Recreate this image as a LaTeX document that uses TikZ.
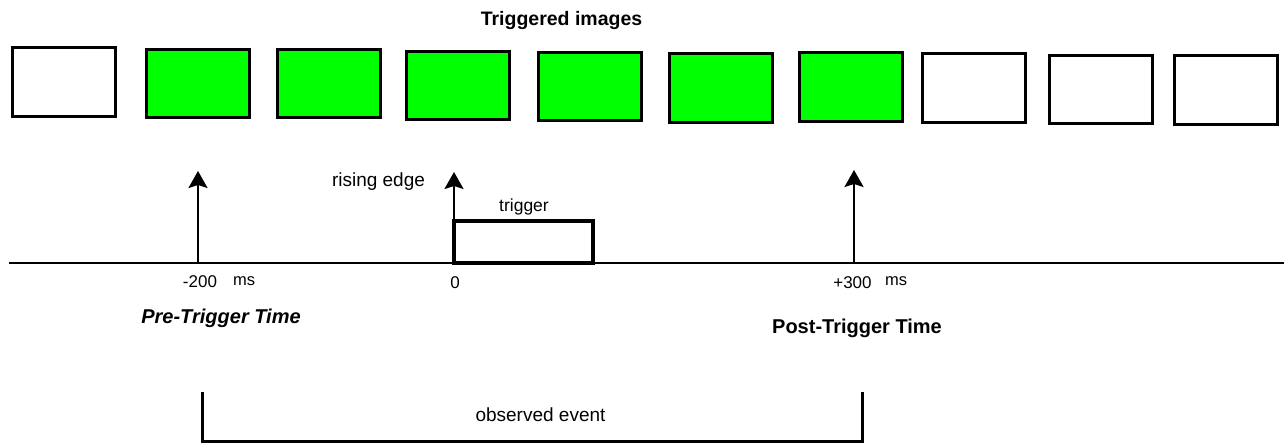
\documentclass[tikz,border=0pt]{standalone}
\usepackage{fontspec}
\setmainfont{Liberation Sans}
\usetikzlibrary{arrows.meta}

\definecolor{framegreen}{RGB}{0,255,0}

\tikzset{
  frame/.style={draw=black, line width=3pt, fill=white, minimum width=103pt,
    minimum height=68pt, inner sep=0pt, outer sep=0pt},
  hit/.style={frame, fill=framegreen},
  pulsebox/.style={draw=black, line width=3.5pt, minimum width=139pt,
    minimum height=42pt, inner sep=0pt},
  uparrow/.style={line width=2.5pt,
    -{Stealth[width=19pt, length=17pt, inset=3pt]}},
  axis/.style={line width=2.5pt},
  bracketline/.style={line width=3pt},
  lbl/.style={anchor=base, inner sep=0pt, text=black},
}

\begin{document}
\begin{tikzpicture}[x=1pt, y=-1pt]
\useasboundingbox (0,0) rectangle (1284,444);

% frame sequence
\node[frame] (f1)  at (64,82)     {};
\node[hit]   (f2)  at (198,83.5)  {};
\node[hit]   (f3)  at (329,83.5)  {};
\node[hit]   (f4)  at (458,85.5)  {};
\node[hit]   (f5)  at (589.5,86.5){};
\node[hit]   (f6)  at (721,88)    {};
\node[hit]   (f7)  at (850.5,87)  {};
\node[frame] (f8)  at (974,88)    {};
\node[frame] (f9)  at (1100.5,89.5){};
\node[frame] (f10) at (1226,90)   {};

\node[lbl, font=\fontsize{19.5}{22}\selectfont\bfseries] (title) at (561.5,26) {Triggered images};

% time axis
\coordinate (axL) at (9,263);
\coordinate (axR) at (1284,263);
\draw[axis] (axL) -- (axR);

\coordinate (tpre)  at (198,263);
\coordinate (tzero) at (454,263);
\coordinate (tpost) at (854,263);
\coordinate (apre)  at (198,171);
\coordinate (azero) at (454,172);
\coordinate (apost) at (854,170);

% trigger pulse
\node[pulsebox] (pulse) at (523.5,242) {};
\node[lbl, font=\fontsize{17.5}{20}\selectfont] (trig) at (524,211) {trigger};

\draw[uparrow] (tpre) -- (apre);
\draw[uparrow] (tzero) -- (azero);
\draw[uparrow] (tpost) -- (apost);

\node[lbl, font=\fontsize{19}{22}\selectfont] (rise) at (378.5,186) {rising edge};

% tick labels
\node[lbl, font=\fontsize{17}{20}\selectfont] (m200) at (200,287) {-200};
\node[lbl, font=\fontsize{16.5}{20}\selectfont] (ms1) at (244,285) {ms};
\node[lbl, font=\fontsize{17}{20}\selectfont] (z0) at (455,288) {0};
\node[lbl, font=\fontsize{17}{20}\selectfont] (p300) at (852.5,288) {+300};
\node[lbl, font=\fontsize{16.5}{20}\selectfont] (ms2) at (896,285) {ms};

\node[lbl, font=\fontsize{20}{23}\selectfont\bfseries\itshape] (pre) at (221,323) {Pre-Trigger Time};
\node[lbl, font=\fontsize{20}{23}\selectfont\bfseries] (post) at (857,333) {Post-Trigger Time};

% observed event bracket
\coordinate (bL) at (202,392);
\coordinate (bR) at (862,392);
\draw[bracketline] (bL) -- (202,441) -- (862,441) -- (bR);
\node[lbl, font=\fontsize{19}{22}\selectfont] (obs) at (540.5,421) {observed event};
\end{tikzpicture}
\end{document}
